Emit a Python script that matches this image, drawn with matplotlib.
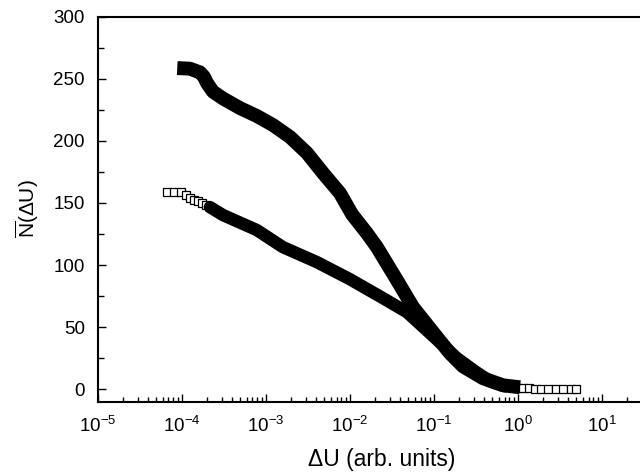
import matplotlib.pyplot as plt
from matplotlib.ticker import MultipleLocator, LogLocator

plt.rcParams['font.family'] = ['Liberation Sans', 'DejaVu Sans']
plt.rcParams['mathtext.fontset'] = 'custom'
plt.rcParams['mathtext.rm'] = 'Liberation Sans'
plt.rcParams['mathtext.it'] = 'Liberation Sans:italic'
plt.rcParams['mathtext.bf'] = 'Liberation Sans:bold'

# upper curve (dense band)
du_upper = [8.9e-5, 1.26e-4, 1.66e-4, 1.85e-4, 2.01e-4, 2.37e-4, 3.12e-4, 4.97e-4, 7.9e-4,
            1.23e-3, 1.96e-3, 3.12e-3, 4.84e-3, 7.7e-3, 0.0107, 0.0161, 0.0212,
            0.0367, 0.057, 0.110, 0.157, 0.224, 0.388, 0.671, 1.07]
n_upper = [258.5, 258.0, 255.0, 251.5, 246.5, 239.5, 234.0, 226.3, 219.9,
           212.6, 203.0, 190.1, 174.0, 157.8, 140.9, 125.6, 114.4,
           87.8, 66.1, 41.9, 29.0, 18.5, 8.9, 3.2, 1.6]

# lower curve: sparse start, dense band, sparse tail
du_lower_head = [6.7e-5, 8.1e-5, 9.9e-5, 1.13e-4, 1.26e-4, 1.41e-4, 1.57e-4,
                 1.75e-4, 1.96e-4, 2.18e-4]
n_lower_head = [158.7, 158.7, 158.7, 156.2, 153.9, 152.2, 151.4, 149.8, 148.2, 146.6]

du_lower = [2.18e-4, 3.12e-4, 7.9e-4, 1.61e-3, 4.1e-3, 0.0101, 0.0251, 0.0484,
            0.0908, 0.1905, 0.312, 0.471, 0.710]
n_lower = [146.6, 140.2, 128.1, 114.4, 102.3, 88.6, 73.3, 62.0,
           45.1, 25.0, 14.5, 6.4, 2.4]

du_lower_tail = [0.86, 1.01, 1.16, 1.37, 1.61, 1.91, 2.31, 2.87, 3.48, 4.33, 4.97]
n_lower_tail = [1.5, 1.2, 1.0, 0.8, 0.6, 0.5, 0.4, 0.3, 0.3, 0.3, 0.3]

x_ticks = [1e-5, 1e-4, 1e-3, 1e-2, 1e-1, 1e0, 1e1]

fig = plt.figure(figsize=(6.4, 4.73), dpi=100)
ax = fig.add_axes([97.5 / 640, (473 - 401.7) / 473, 1 - 97.5 / 640, (401.7 - 16.5) / 473])

sq = dict(ls='none', marker='s', ms=5.5, mfc='white', mec='black', mew=0.9)

# bands drawn as thick strokes, single squares where the points thin out
ax.plot(du_upper, n_upper, color='black', lw=10, solid_capstyle='butt',
        solid_joinstyle='round', zorder=3)
ax.plot(du_lower, n_lower, color='black', lw=9, solid_capstyle='round',
        solid_joinstyle='round', zorder=3)
ax.plot(du_lower_head, n_lower_head, **sq, zorder=2)
ax.plot(du_lower_tail, n_lower_tail, **sq, zorder=2)

ax.set_xscale('log')
ax.set_xticks(x_ticks)
ax.xaxis.set_minor_locator(LogLocator(base=10, subs=range(2, 10), numticks=20))
ax.set_xlim(1e-5, 10 ** 1.458)
ax.set_ylim(-10, 300)

ax.yaxis.set_major_locator(MultipleLocator(50))
ax.yaxis.set_minor_locator(MultipleLocator(25))

ax.spines['right'].set_visible(False)
for s in ['left', 'bottom', 'top']:
    ax.spines[s].set_linewidth(1.5)

ax.tick_params(which='both', direction='in', top=False, right=False, width=1)
ax.tick_params(axis='y', which='major', length=6, pad=9, labelsize=13.5)
ax.tick_params(axis='y', which='minor', length=4)
ax.tick_params(axis='x', which='major', length=6, pad=10, labelsize=13.5)
ax.tick_params(axis='x', which='minor', length=3.5)

ax.set_xlabel('ΔU (arb. units)', fontsize=16.5)
ax.set_ylabel(r'$\overline{\mathrm{N}}$(ΔU)', fontsize=15, labelpad=9)
ax.xaxis.set_label_coords((382 - 97.5) / (640 - 97.5), -0.12)

fig.savefig('out.png', dpi=100)
